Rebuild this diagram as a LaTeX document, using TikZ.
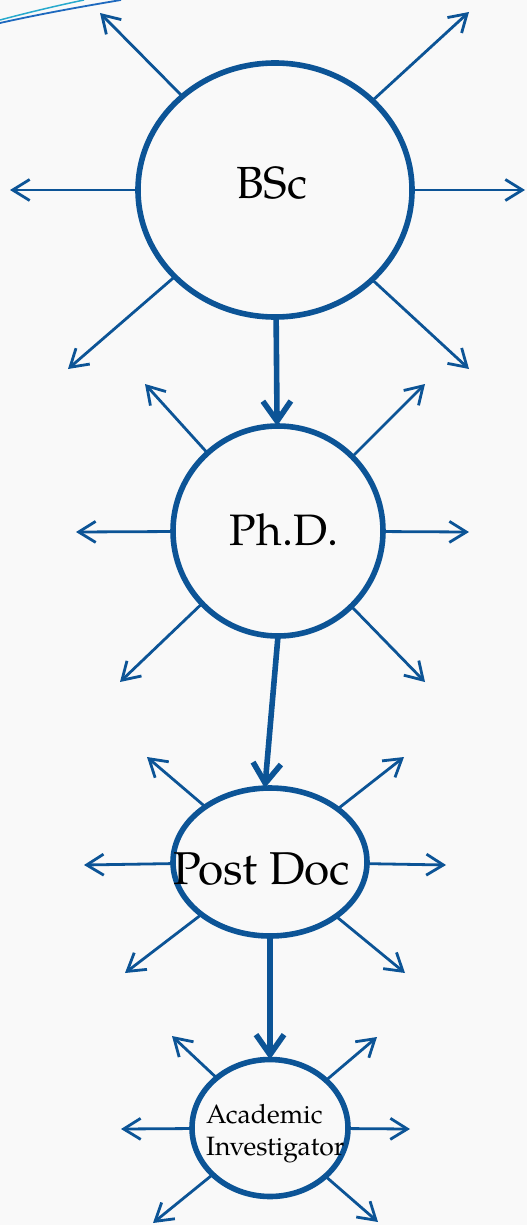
\documentclass[tikz,border=0pt]{standalone}
\usepackage{fontspec}
\setmainfont{TeX Gyre Pagella}
\usetikzlibrary{arrows.meta,shapes.geometric}
\definecolor{mainblue}{RGB}{12,84,150}
\definecolor{bgcol}{RGB}{249,249,249}
\definecolor{swcyan}{RGB}{40,170,205}
\definecolor{swblue}{RGB}{30,105,190}
\begin{document}
\begin{tikzpicture}[x=1pt,y=-1pt,
  stage/.style={ellipse,draw=mainblue,line width=5.6pt,inner sep=0pt,outer sep=0pt},
  ray/.style={draw=mainblue,line width=2.8pt,-{Straight Barb[length=17pt,width=21pt]}},
  flow/.style={draw=mainblue,line width=5.6pt,-{Straight Barb[length=20pt,width=28pt]}},
  lbl/.style={anchor=base,inner sep=0pt,text=black}]
\useasboundingbox (0,0) rectangle (527,1225);
\fill[bgcol] (0,0) rectangle (527,1225);

% decorative swoosh, top left
\draw[swcyan,line width=1.5pt] (0,20) .. controls (30,12) and (60,5) .. (84,0);
\draw[swblue,line width=1.8pt] (0,23) .. controls (40,14) and (85,6) .. (121,0);

% stages
\node[stage,minimum width=274pt,minimum height=254pt] (bsc) at (275,190) {};
\node[stage,minimum width=210pt,minimum height=210pt] (phd) at (278,531) {};
\node[stage,minimum width=194pt,minimum height=148pt] (pd) at (270,862) {};
\node[stage,minimum width=156pt,minimum height=137pt] (ai) at (270,1128) {};

% labels
\node[lbl,font=\fontsize{45}{50}\selectfont] (bsct) at (272,198) {BSc};
\node[lbl,font=\fontsize{44}{50}\selectfont] (phdt) at (284,545) {Ph.D.};
\node[lbl,font=\fontsize{46}{50}\selectfont] (pdt) at (262,884) {Post Doc};
\node[anchor=base west,inner sep=0pt,align=left,text=black,
      font=\fontsize{26.5}{32}\selectfont] (ait) at (206,1155) {Academic\\Investigator};

% ray end points
\coordinate (b-nw) at (100,13);  \coordinate (b-ne) at (469,12);
\coordinate (b-w)  at (10,190);  \coordinate (b-e)  at (525,190);
\coordinate (b-sw) at (68,369);  \coordinate (b-se) at (469,369);
\coordinate (p-nw) at (145,384); \coordinate (p-ne) at (425,384);
\coordinate (p-w)  at (76,532);  \coordinate (p-e)  at (469,532);
\coordinate (p-sw) at (120,682); \coordinate (p-se) at (425,682);
\coordinate (d-nw) at (147,757); \coordinate (d-ne) at (404,757);
\coordinate (d-w)  at (84,865);  \coordinate (d-e)  at (446,865);
\coordinate (d-sw) at (125,973); \coordinate (d-se) at (405,973);
\coordinate (a-nw) at (172,1036);\coordinate (a-ne) at (377,1037);
\coordinate (a-w)  at (121,1129);\coordinate (a-e)  at (410,1129);
\coordinate (a-sw) at (153,1223);\coordinate (a-se) at (378,1222);

\foreach \n/\p in {bsc/b,phd/p,pd/d,ai/a}{
  \foreach \d in {nw,ne,w,e,sw,se}{
    \draw[ray] (\n) -- (\p-\d);
  }
}

% main flow
\draw[flow] (bsc) -- (phd);
\draw[flow] (phd.south) -- (pd.94);
\draw[flow] (pd) -- (ai);
\end{tikzpicture}
\end{document}
